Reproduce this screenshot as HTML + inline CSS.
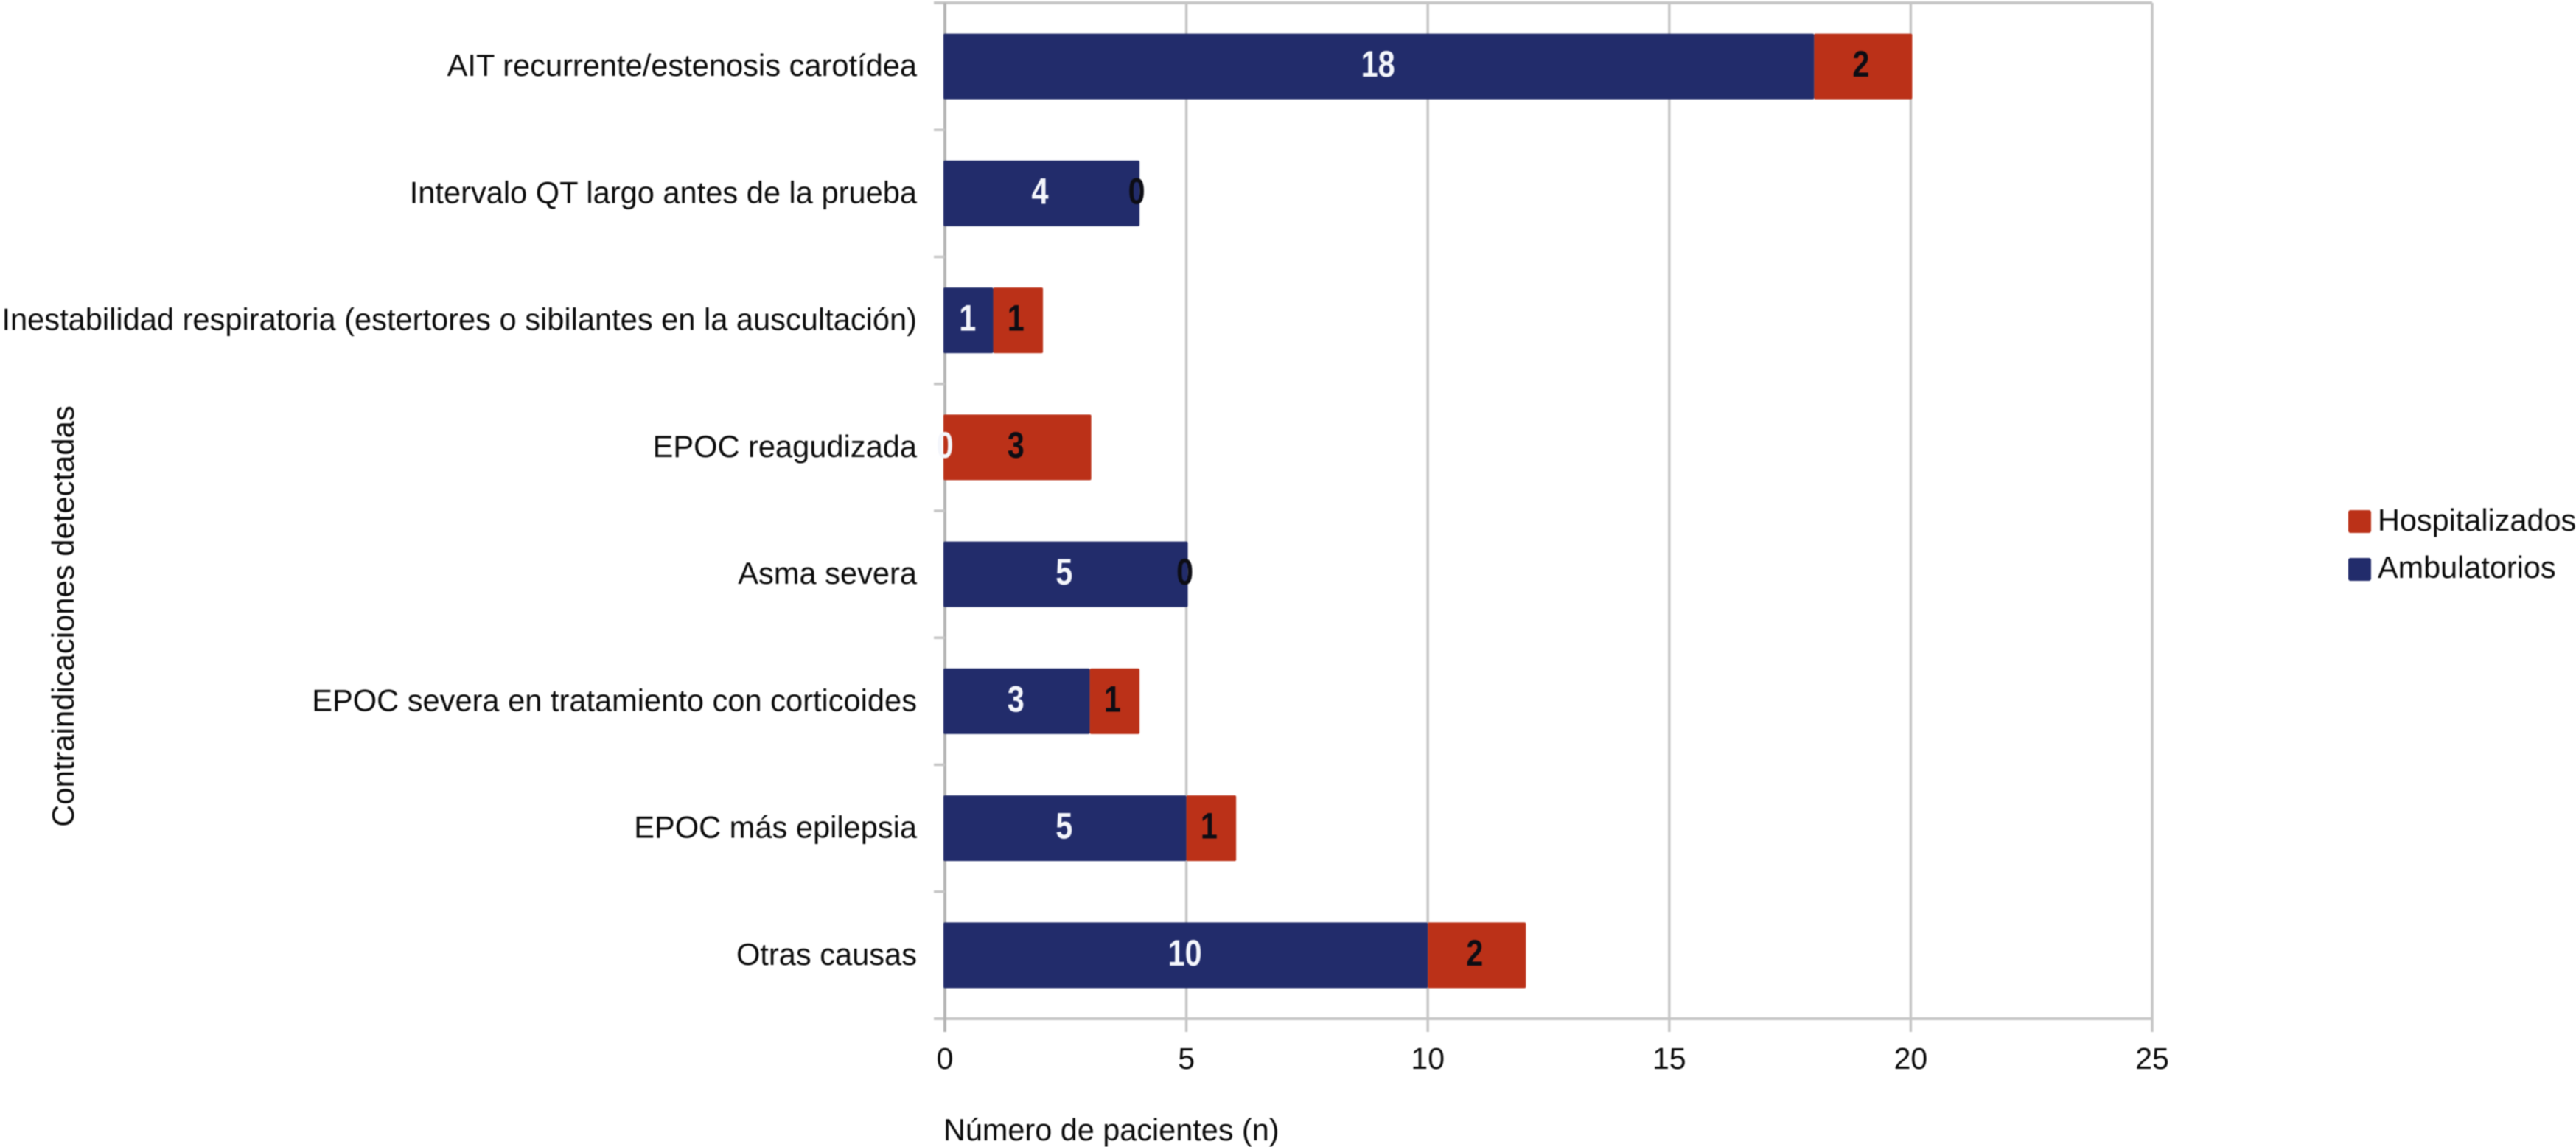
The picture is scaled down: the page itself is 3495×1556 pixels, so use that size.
<!DOCTYPE html>
<html lang="es">
<head>
<meta charset="utf-8">
<title>Contraindicaciones detectadas</title>
<style>
html,body{margin:0;padding:0;background:#fff;width:3495px;height:1556px;overflow:hidden}
svg{display:block;font-family:"Liberation Sans",Arial,sans-serif;filter:blur(0.7px)}
</style>
</head>
<body>
<svg id="chart" xmlns="http://www.w3.org/2000/svg" width="3495" height="1556" viewBox="0 0 3495 1556">
  <rect x="0" y="0" width="3495" height="1556" fill="#ffffff"/>
  <g id="grid"></g>
  <g id="bars"></g>
  <g id="values"></g>
  <g id="xticks"></g>
  <g id="ylabels"></g>
  <text x="1280" y="1547" font-size="41.4" fill="#0a0a0a">Número de pacientes (n)</text>
  <text transform="translate(100,836) rotate(-90)" text-anchor="middle" font-size="41.8" fill="#0a0a0a">Contraindicaciones detectadas</text>
  <g>
    <g>
      <rect x="3186" y="692" width="31" height="31" rx="3" fill="#bb3118"/>
      <text x="3226" y="720" font-size="41.4" fill="#0a0a0a">Hospitalizados</text>
    </g>
    <g>
      <rect x="3186" y="757" width="31" height="31" rx="3" fill="#222c6b"/>
      <text x="3226" y="784" font-size="41.4" fill="#0a0a0a">Ambulatorios</text>
    </g>
  </g>
</svg>
<script>
const categories = [
  "AIT recurrente/estenosis carotídea",
  "Intervalo QT largo antes de la prueba",
  "Inestabilidad respiratoria (estertores o sibilantes en la auscultación)",
  "EPOC reagudizada",
  "Asma severa",
  "EPOC severa en tratamiento con corticoides",
  "EPOC más epilepsia",
  "Otras causas"
];
const ambulatorios = [18, 4, 1, 0, 5, 3, 5, 10];
const hospitalizados = [2, 0, 1, 3, 0, 1, 1, 2];
const xTicks = [0, 5, 10, 15, 20, 25];

const NS = "http://www.w3.org/2000/svg";
const plot = { left: 1282, right: 2920, top: 4, bottom: 1382 };
const xMax = xTicks[xTicks.length - 1];
const barHeight = 89;
const navy = "#222c6b";
const red = "#bb3118";
const gridColor = "#c6c6c6";

function xScale(v) { return plot.left + (v / xMax) * (plot.right - plot.left); }
function bandHeight() { return (plot.bottom - plot.top) / categories.length; }
function yCenter(i) { return plot.top + (i + 0.5) * bandHeight(); }
function make(tag, attrs, parent) {
  const el = document.createElementNS(NS, tag);
  for (const k in attrs) el.setAttribute(k, attrs[k]);
  parent.appendChild(el);
  return el;
}

const grid = document.getElementById("grid");
const bars = document.getElementById("bars");
const values = document.getElementById("values");
const xticksG = document.getElementById("xticks");
const ylabels = document.getElementById("ylabels");

// top border and x axis line
const topLine = make("line", {x1: plot.left - 15, x2: plot.right, y1: plot.top, y2: plot.top, stroke: gridColor, "stroke-width": 4}, grid);


const xAxisLine = make("line", {x1: plot.left - 15, x2: plot.right, y1: plot.bottom, y2: plot.bottom, stroke: gridColor, "stroke-width": 4}, grid);



// vertical gridlines and tick labels
xTicks.forEach(function (t) {
  const gl = make("line", {x1: xScale(t), x2: xScale(t), y1: plot.top, y2: plot.bottom + 18, stroke: t === 0 ? "#b4b4b4" : gridColor, "stroke-width": t === 0 ? 4 : 3.5}, grid);
  
  
  const lb = make("text", {x: xScale(t), y: 1450, "text-anchor": "middle", "font-size": 41, fill: "#0a0a0a"}, xticksG);
  
  
  lb.textContent = t;
});

// category separators (left ticks)
categories.forEach(function (c, i) {
  if (i === 0) return;
  const y = plot.top + i * bandHeight();
  const tk = make("line", {x1: plot.left - 15, x2: plot.left, y1: y, y2: y, stroke: gridColor, "stroke-width": 3.5}, grid);
  
  
});

function valueLabel(v, cx, cy, fill) {
  const s = String(v);
  const t = make("text", {x: cx, y: cy + 14, "text-anchor": "middle", "font-size": 50, "font-weight": "bold", fill: fill, textLength: 23 * s.length, lengthAdjust: "spacingAndGlyphs"}, values);
  
  
  t.textContent = s;
}

categories.forEach(function (c, i) {
  const cy = yCenter(i);
  const a = ambulatorios[i];
  const h = hospitalizados[i];
  const top = cy - barHeight / 2;

  const lab = make("text", {x: 1244, y: cy + 13, "text-anchor": "end", "font-size": 41.6, fill: "#0a0a0a"}, ylabels);
  
  
  lab.textContent = c;

  if (a > 0) {
    const rA = make("rect", {x: xScale(0) - 2, y: top, width: xScale(a) - xScale(0) + (h > 0 ? 2 : 4), height: barHeight, rx: 2, fill: navy}, bars);
    
    
  }
  if (h > 0) {
    const startX = a > 0 ? xScale(a) : xScale(a) - 2;
    const rH = make("rect", {x: startX, y: top, width: xScale(a + h) - startX + 2, height: barHeight, rx: 2, fill: red}, bars);
    
    
  }
  valueLabel(a, (xScale(0) + xScale(a)) / 2 - (a > 0 ? 2 : 0), cy, "#f4f6fb");
  valueLabel(h, (xScale(a) + xScale(a + h)) / 2 - (h > 0 ? 2 : 2), cy, "#0d0d14");
});
</script>
</body>
</html>
